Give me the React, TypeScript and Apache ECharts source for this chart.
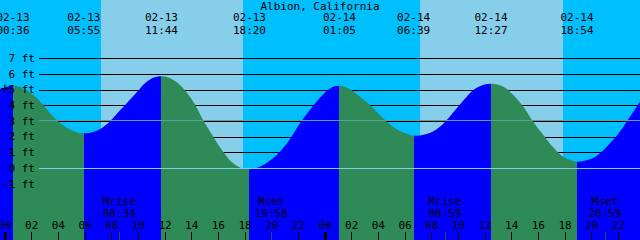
import React, { useEffect, useRef } from 'react';
import * as echarts from 'echarts';

const TITLE = 'Albion, California';
const DATES = ['02-13', '02-14'];

// tide curve: hours since 02-13 00:00, height in feet
const tideHours = [
  -0.375, 0.6, 1.37, 2.12, 2.87, 3.62, 4.37, 5.12, 5.917, 6.88,
  7.63, 8.38, 9.13, 9.88, 10.63, 11.38, 11.733, 12.62, 13.37, 14.12,
  14.87, 15.62, 16.37, 17.12, 17.87, 18.333, 19.12, 19.87, 20.62, 21.37,
  22.12, 22.87, 23.62, 24.37, 25.083, 25.87, 26.62, 27.37, 28.12, 28.87,
  29.62, 30.37, 30.65, 31.63, 32.38, 33.13, 33.88, 34.63, 35.38, 36.45,
  37.37, 38.12, 38.87, 39.62, 40.37, 41.12, 41.87, 42.62, 42.9, 43.87,
  44.62, 45.37, 46.12, 46.87, 47.625,
];
const tideFeet = [
  5.06, 5.27, 5.1, 4.68, 4.04, 3.29, 2.74, 2.38, 2.23, 2.4,
  2.81, 3.47, 4.15, 4.85, 5.53, 5.85, 5.87, 5.64, 5.1, 4.25,
  3.08, 2.02, 1.06, 0.32, -0.02, -0.06, 0.1, 0.49, 1.06, 1.85,
  2.87, 3.72, 4.5, 5.1, 5.27, 5.04, 4.57, 4.04, 3.4, 2.81,
  2.38, 2.14, 2.08, 2.19, 2.49, 3.08, 3.83, 4.57, 5.14, 5.4,
  5.21, 4.68, 3.93, 2.97, 2.13, 1.34, 0.74, 0.47, 0.42, 0.57,
  0.96, 1.6, 2.34, 3.29, 4.25,
];

const extremeDate = ['02-13', '02-13', '02-13', '02-13', '02-14', '02-14', '02-14', '02-14'];
const extremeClock = ['00:36', '05:55', '11:44', '18:20', '01:05', '06:39', '12:27', '18:54'];
const extremeType = ['H', 'L', 'H', 'L', 'H', 'L', 'H', 'L'];

const moonEvent = ['Mrise', 'Mset', 'Mrise', 'Mset'];
const moonDate = ['02-13', '02-13', '02-14', '02-14'];
const moonClock = ['08:34', '19:58', '08:59', '20:59'];

const sunriseDate = ['02-13', '02-14'];
const sunriseClock = ['07:12', '07:08'];
const sunsetClock = ['17:51', '17:51'];

const hourTicks = [0, 2, 4, 6, 8, 10, 12, 14, 16, 18, 20, 22, 24, 26, 28, 30, 32, 34, 36, 38, 40, 42, 44, 46, 48];
const midnightTicks = [0, 24];
const nowMark = [0, 5.1];
const MSL = 3.06;
const DATUM = 0;

const X_MIN = -0.375;
const X_MAX = 47.625;
const Y_MIN = -4.576;
const Y_MAX = 10.74;

const FONT = "'DejaVu Sans Mono', monospace";
const FLOOD = '#0000FF';
const EBB = '#2E8B57';

const toHours = (date: string, clock: string) => {
  const [hh, mm] = clock.split(':').map(Number);
  return DATES.indexOf(date) * 24 + hh + mm / 60;
};
const pad2 = (n: number) => (n < 10 ? '0' : '') + n;

export default function App() {
  const ref = useRef<HTMLDivElement>(null);
  useEffect(() => {
    if (!ref.current) return;
    const chart = echarts.init(ref.current, undefined, { renderer: 'svg' });

    const extremeHours = extremeClock.map((c, i) => toHours(extremeDate[i], c));
    const moonHours = moonClock.map((c, i) => toHours(moonDate[i], c));
    const dayBands = sunriseClock.map((c, i) => [
      toHours(sunriseDate[i], c),
      toHours(sunriseDate[i], sunsetClock[i]),
    ]);

    const pieces: any[] = [];
    pieces.push({ lt: extremeHours[0], color: extremeType[0] === 'H' ? FLOOD : EBB });
    extremeHours.forEach((h, i) => {
      const p: any = { gte: h, color: extremeType[i] === 'H' ? EBB : FLOOD };
      if (i < extremeHours.length - 1) p.lt = extremeHours[i + 1];
      pieces.push(p);
    });

    const findIdx = (arr: number[], v: number) => arr.findIndex((a) => Math.abs(a - v) < 1e-6);

    const txt = { color: '#000', fontFamily: FONT, fontSize: 11 };
    const hidden = { show: false, onZero: false };
    const edge = { alignMinLabel: 'center', alignMaxLabel: 'center' };

    const option: any = {
      animation: false,
      backgroundColor: '#00BFFF',
      textStyle: { fontFamily: FONT },
      title: {
        text: TITLE,
        left: 'center',
        top: 0,
        padding: 0,
        textStyle: { ...txt, fontWeight: 'normal', lineHeight: 12 },
      },
      grid: [
        { left: 0, right: 0, top: 0, bottom: 0, containLabel: false, outerBoundsMode: 'none' },
        { left: 39, right: 0, top: 58.6, bottom: 56, containLabel: false, outerBoundsMode: 'none' },
      ],
      visualMap: {
        type: 'piecewise',
        show: false,
        dimension: 0,
        seriesIndex: 0,
        pieces,
      },
      xAxis: [
        {
          gridIndex: 0, type: 'value', min: X_MIN, max: X_MAX, position: 'bottom', z: 10,
          axisLine: hidden, splitLine: { show: false },
          axisTick: { show: true, inside: true, length: 8, customValues: hourTicks, lineStyle: { color: '#000', width: 1 } },
          axisLabel: {
            show: true, inside: true, margin: 9, customValues: hourTicks, ...txt, lineHeight: 12, ...edge,
            formatter: (v: number) => pad2(((Math.round(v) % 24) + 24) % 24),
          },
        },
        {
          gridIndex: 0, type: 'value', min: X_MIN, max: X_MAX, position: 'bottom', z: 10,
          axisLine: hidden, splitLine: { show: false }, axisLabel: { show: false },
          axisTick: { show: true, inside: true, length: 8, customValues: midnightTicks, lineStyle: { color: '#000', width: 3 } },
        },
        {
          gridIndex: 0, type: 'value', min: X_MIN, max: X_MAX, position: 'bottom', z: 10,
          axisLine: hidden, splitLine: { show: false },
          axisTick: { show: true, inside: true, length: 8, customValues: moonHours, lineStyle: { color: '#444', width: 1 } },
          axisLabel: {
            show: true, inside: true, margin: 20.8, customValues: moonHours, ...txt, lineHeight: 11.7, ...edge,
            formatter: (v: number) => {
              const i = findIdx(moonHours, v);
              return i < 0 ? '' : moonEvent[i] + '\n' + moonClock[i];
            },
          },
        },
        {
          gridIndex: 0, type: 'value', min: X_MIN, max: X_MAX, position: 'top', z: 10,
          axisLine: hidden, splitLine: { show: false }, axisTick: { show: false },
          axisLabel: {
            show: true, inside: true, margin: 11, customValues: extremeHours, ...txt, lineHeight: 12.7, ...edge,
            formatter: (v: number) => {
              const i = findIdx(extremeHours, v);
              return i < 0 ? '' : extremeDate[i] + '\n' + extremeClock[i];
            },
          },
        },
        {
          gridIndex: 1, type: 'value', min: X_MIN, max: X_MAX, show: false,
          axisLine: hidden,
        },
      ],
      yAxis: [
        {
          gridIndex: 0, type: 'value', min: Y_MIN, max: Y_MAX, show: false,
          axisLine: hidden, splitLine: { show: false },
        },
        {
          gridIndex: 1, type: 'value', min: -1, max: 7, interval: 1, position: 'left', z: 2,
          axisLine: hidden, axisTick: { show: false }, axisLabel: { show: false },
          splitLine: { show: true, lineStyle: { color: '#000', width: 1 } },
        },
        {
          gridIndex: 1, type: 'value', min: -1, max: 7, interval: 1, position: 'left', z: 10,
          axisLine: hidden, axisTick: { show: false }, splitLine: { show: false },
          axisLabel: { show: true, margin: 4, ...txt, formatter: '{value} ft' },
        },
      ],
      series: [
        {
          type: 'line',
          xAxisIndex: 0,
          yAxisIndex: 0,
          z: 3,
          data: tideHours.map((h, i) => [h, tideFeet[i]]),
          smooth: 0.4,
          symbol: 'none',
          showSymbol: false,
          silent: true,
          lineStyle: { width: 0 },
          areaStyle: { opacity: 1, origin: 'start' },
          markArea: {
            silent: true,
            z: 1,
            itemStyle: { color: '#87CEEB', opacity: 1, borderWidth: 0 },
            data: dayBands.map(([a, b]) => [{ xAxis: a }, { xAxis: b }]),
          },
          markPoint: {
            silent: true,
            z: 6,
            symbol: 'circle',
            symbolSize: 1,
            itemStyle: { color: 'rgba(0,0,0,0)' },
            label: { show: true, position: 'inside', formatter: '+', ...txt, fontSize: 14 },
            data: [{ coord: nowMark }],
          },
        },
        {
          type: 'line',
          xAxisIndex: 4,
          yAxisIndex: 1,
          data: [],
          silent: true,
          markLine: {
            silent: true,
            z: 5,
            symbol: 'none',
            label: { show: false },
            data: [
              { yAxis: DATUM, lineStyle: { color: '#87CEEB', width: 1, type: 'solid' } },
              { yAxis: MSL, lineStyle: { color: '#5F9EA0', width: 1, type: 'solid' } },
            ],
          },
        },
      ],
    };
    chart.setOption(option);
    return () => chart.dispose();
  }, []);
  return <div ref={ref} style={{ position: 'absolute', left: 0, top: 0, width: 640, height: 240 }} />;
}
